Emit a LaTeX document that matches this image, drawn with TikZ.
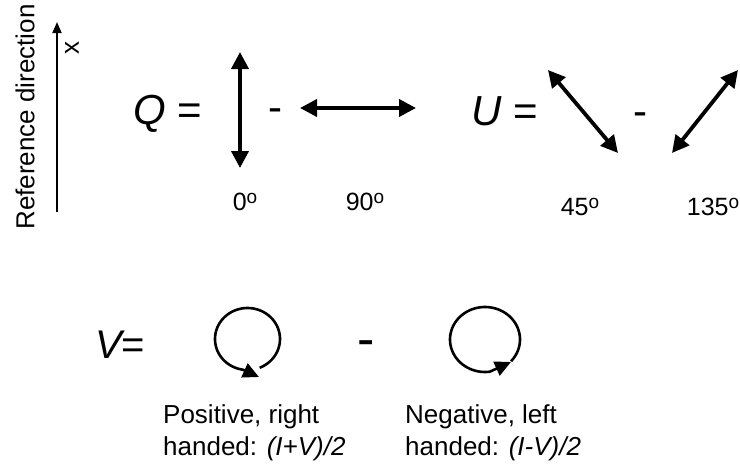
\documentclass[tikz,border=0pt]{standalone}
\usepackage{fontspec}
\setmainfont{Liberation Sans}
\usetikzlibrary{arrows.meta}
\newcommand{\degsup}{\raisebox{7pt}{\fontsize{19}{19}\selectfont o}}
\begin{document}
\begin{tikzpicture}[x=1pt,y=-1pt,
  pol/.style={line width=3.8pt,{Triangle[length=17pt,width=17pt]}-{Triangle[length=17pt,width=17pt]}},
  refarrow/.style={line width=1.8pt,-{Triangle[length=11pt,width=9pt]}},
  circpath/.style={line width=2.6pt,-{Triangle[length=16pt,width=15pt]}},
  big/.style={font=\fontsize{42}{50}\selectfont, inner sep=0pt},
  vbig/.style={font=\fontsize{40}{48}\selectfont, inner sep=0pt},
  angle/.style={font=\fontsize{25}{30}\selectfont, inner sep=0pt},
  body/.style={font=\fontsize{26}{31}\selectfont, inner sep=0pt, anchor=base west},
  dashsign/.style={inner sep=0pt, anchor=base}
]
\useasboundingbox (0,0) rectangle (740,474);

% reference direction
\coordinate (refbot) at (57,212);
\coordinate (reftop) at (57,22);
\draw[refarrow] (refbot) -- (reftop);
\node[rotate=90, font=\fontsize{26}{31}\selectfont, inner sep=0pt] (reflabel) at (25,117) {Reference direction};
\node[rotate=90, font=\fontsize{26}{30}\selectfont, inner sep=0pt] (xlabel) at (72,48) {x};

% Q row
\node[big, anchor=base west] (Qeq) at (133,124) {\itshape Q\upshape\ =};
\coordinate (v0top) at (240,52);
\coordinate (v0bot) at (240,168);
\draw[pol] (v0top) -- (v0bot);
\node[big, dashsign] (qminus) at (275,121) {-};
\coordinate (h90l) at (300,108);
\coordinate (h90r) at (416,108);
\draw[pol] (h90l) -- (h90r);
\node[angle] (l0) at (245,202) {0\degsup};
\node[angle] (l90) at (365,202) {90\degsup};

% U row
\node[big, anchor=base west] (Ueq) at (471,125) {\itshape U\upshape\ =};
\coordinate (d45a) at (548,70);
\coordinate (d45b) at (618,153);
\draw[pol] (d45a) -- (d45b);
\node[big, dashsign] (uminus) at (640,125) {-};
\coordinate (d135a) at (672,153);
\coordinate (d135b) at (738,70);
\draw[pol] (d135a) -- (d135b);
\node[angle] (l45) at (580,207) {45\degsup};
\node[angle] (l135) at (713,207) {135\degsup};

% V row
\node[vbig, anchor=base west] (Veq) at (95,358) {\itshape V\upshape =};
\coordinate (t1) at (259,377);
\draw[circpath] plot[domain=-68:262, samples=80, smooth] ({247.5+32.5*cos(\x)}, {339-31*sin(\x)}) -- (t1);
\node[font=\fontsize{52}{60}\selectfont, dashsign] (vminus) at (366,356) {-};
\coordinate (t2) at (511,362);
\draw[circpath] plot[domain=-42:278, samples=80, smooth] ({485+35*cos(\x)}, {339.5-32.5*sin(\x)}) -- (t2);

\node[body] (pos1) at (163,423) {Positive, right};
\node[body] (pos2) at (163,455) {handed: \textit{(I+V)/2}};
\node[body] (neg1) at (405,423) {Negative, left};
\node[body] (neg2) at (405,455) {handed: \textit{(I-V)/2}};
\end{tikzpicture}
\end{document}
